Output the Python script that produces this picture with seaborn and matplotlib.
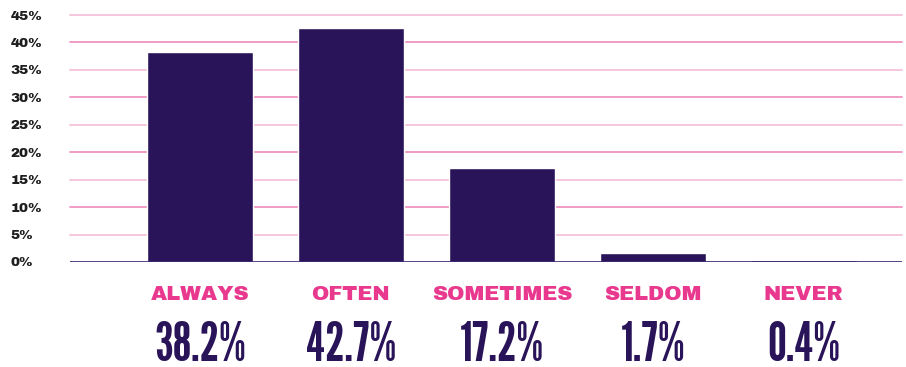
import matplotlib
matplotlib.use("Agg")
import matplotlib.pyplot as plt
from matplotlib import font_manager
import seaborn as sns
import pandas as pd

# Survey responses
categories = ["ALWAYS", "OFTEN", "SOMETIMES", "SELDOM", "NEVER"]
shares = [38.2, 42.7, 17.2, 1.7, 0.4]
y_ticks = [0, 5, 10, 15, 20, 25, 30, 35, 40, 45]

BAR = "#2a1459"
PINK = "#e8398f"
GRID_LIGHT = "#f6c1da"
GRID_DARK = "#ef94c0"

sns.set_theme(style="white")

installed = {f.name for f in font_manager.fontManager.ttflist}


def pick(*names):
    for n in names:
        if n in installed:
            return n
    return "DejaVu Sans"


gothic = pick("League Gothic", "Oswald")
heavy = pick("Archivo Black", "DejaVu Sans")
plt.rcParams["font.family"] = [heavy, "DejaVu Sans"]

df = pd.DataFrame({"category": categories, "share": shares})

fig = plt.figure(figsize=(9.06, 3.67), dpi=100)
ax = fig.add_axes([70 / 906, 1 - 262 / 367, (902 - 70) / 906, (262 - 15) / 367])

sns.barplot(data=df, x="category", y="share", color=BAR, saturation=1,
            width=0.7, ax=ax, zorder=3)

ax.set_ylim(0, 45)
ax.set_xlim(-0.86, 4.65)
ax.set_yticks(y_ticks)
ax.set_yticklabels([f"{t}%" for t in y_ticks], fontsize=9.8, color="#1e1e1e")
ax.tick_params(axis="y", length=0, pad=43)
for lbl in ax.get_yticklabels():
    lbl.set_horizontalalignment("left")
ax.set_xticks([])
ax.set_xlabel("")
ax.set_ylabel("")

for t in y_ticks[1:]:
    ax.axhline(t, color=GRID_DARK if t % 10 == 0 else GRID_LIGHT, lw=1.3,
               zorder=1, clip_on=False)
ax.axhline(0, color="#3a2470", lw=1.2, zorder=4)

for s in ax.spines.values():
    s.set_visible(False)

# Size the big share figures so a label is about 92 px wide
renderer = fig.canvas.get_renderer()
probe = fig.text(0, 0, "38.2%", fontsize=40, family=[gothic, "DejaVu Sans"])
w = probe.get_window_extent(renderer).width
probe.remove()
big_size = 40 * 92 / w

# Category names and their shares beneath the axis
for i, (cat, val) in enumerate(zip(categories, shares)):
    ax.text(i, -6.9, cat, ha="center", va="baseline", color=PINK,
            fontsize=15, clip_on=False)
    ax.text(i, -18.0, f"{val}%", ha="center", va="baseline", color=BAR,
            fontsize=big_size, family=[gothic, "DejaVu Sans"], clip_on=False)

fig.savefig("out.png", dpi=100)
